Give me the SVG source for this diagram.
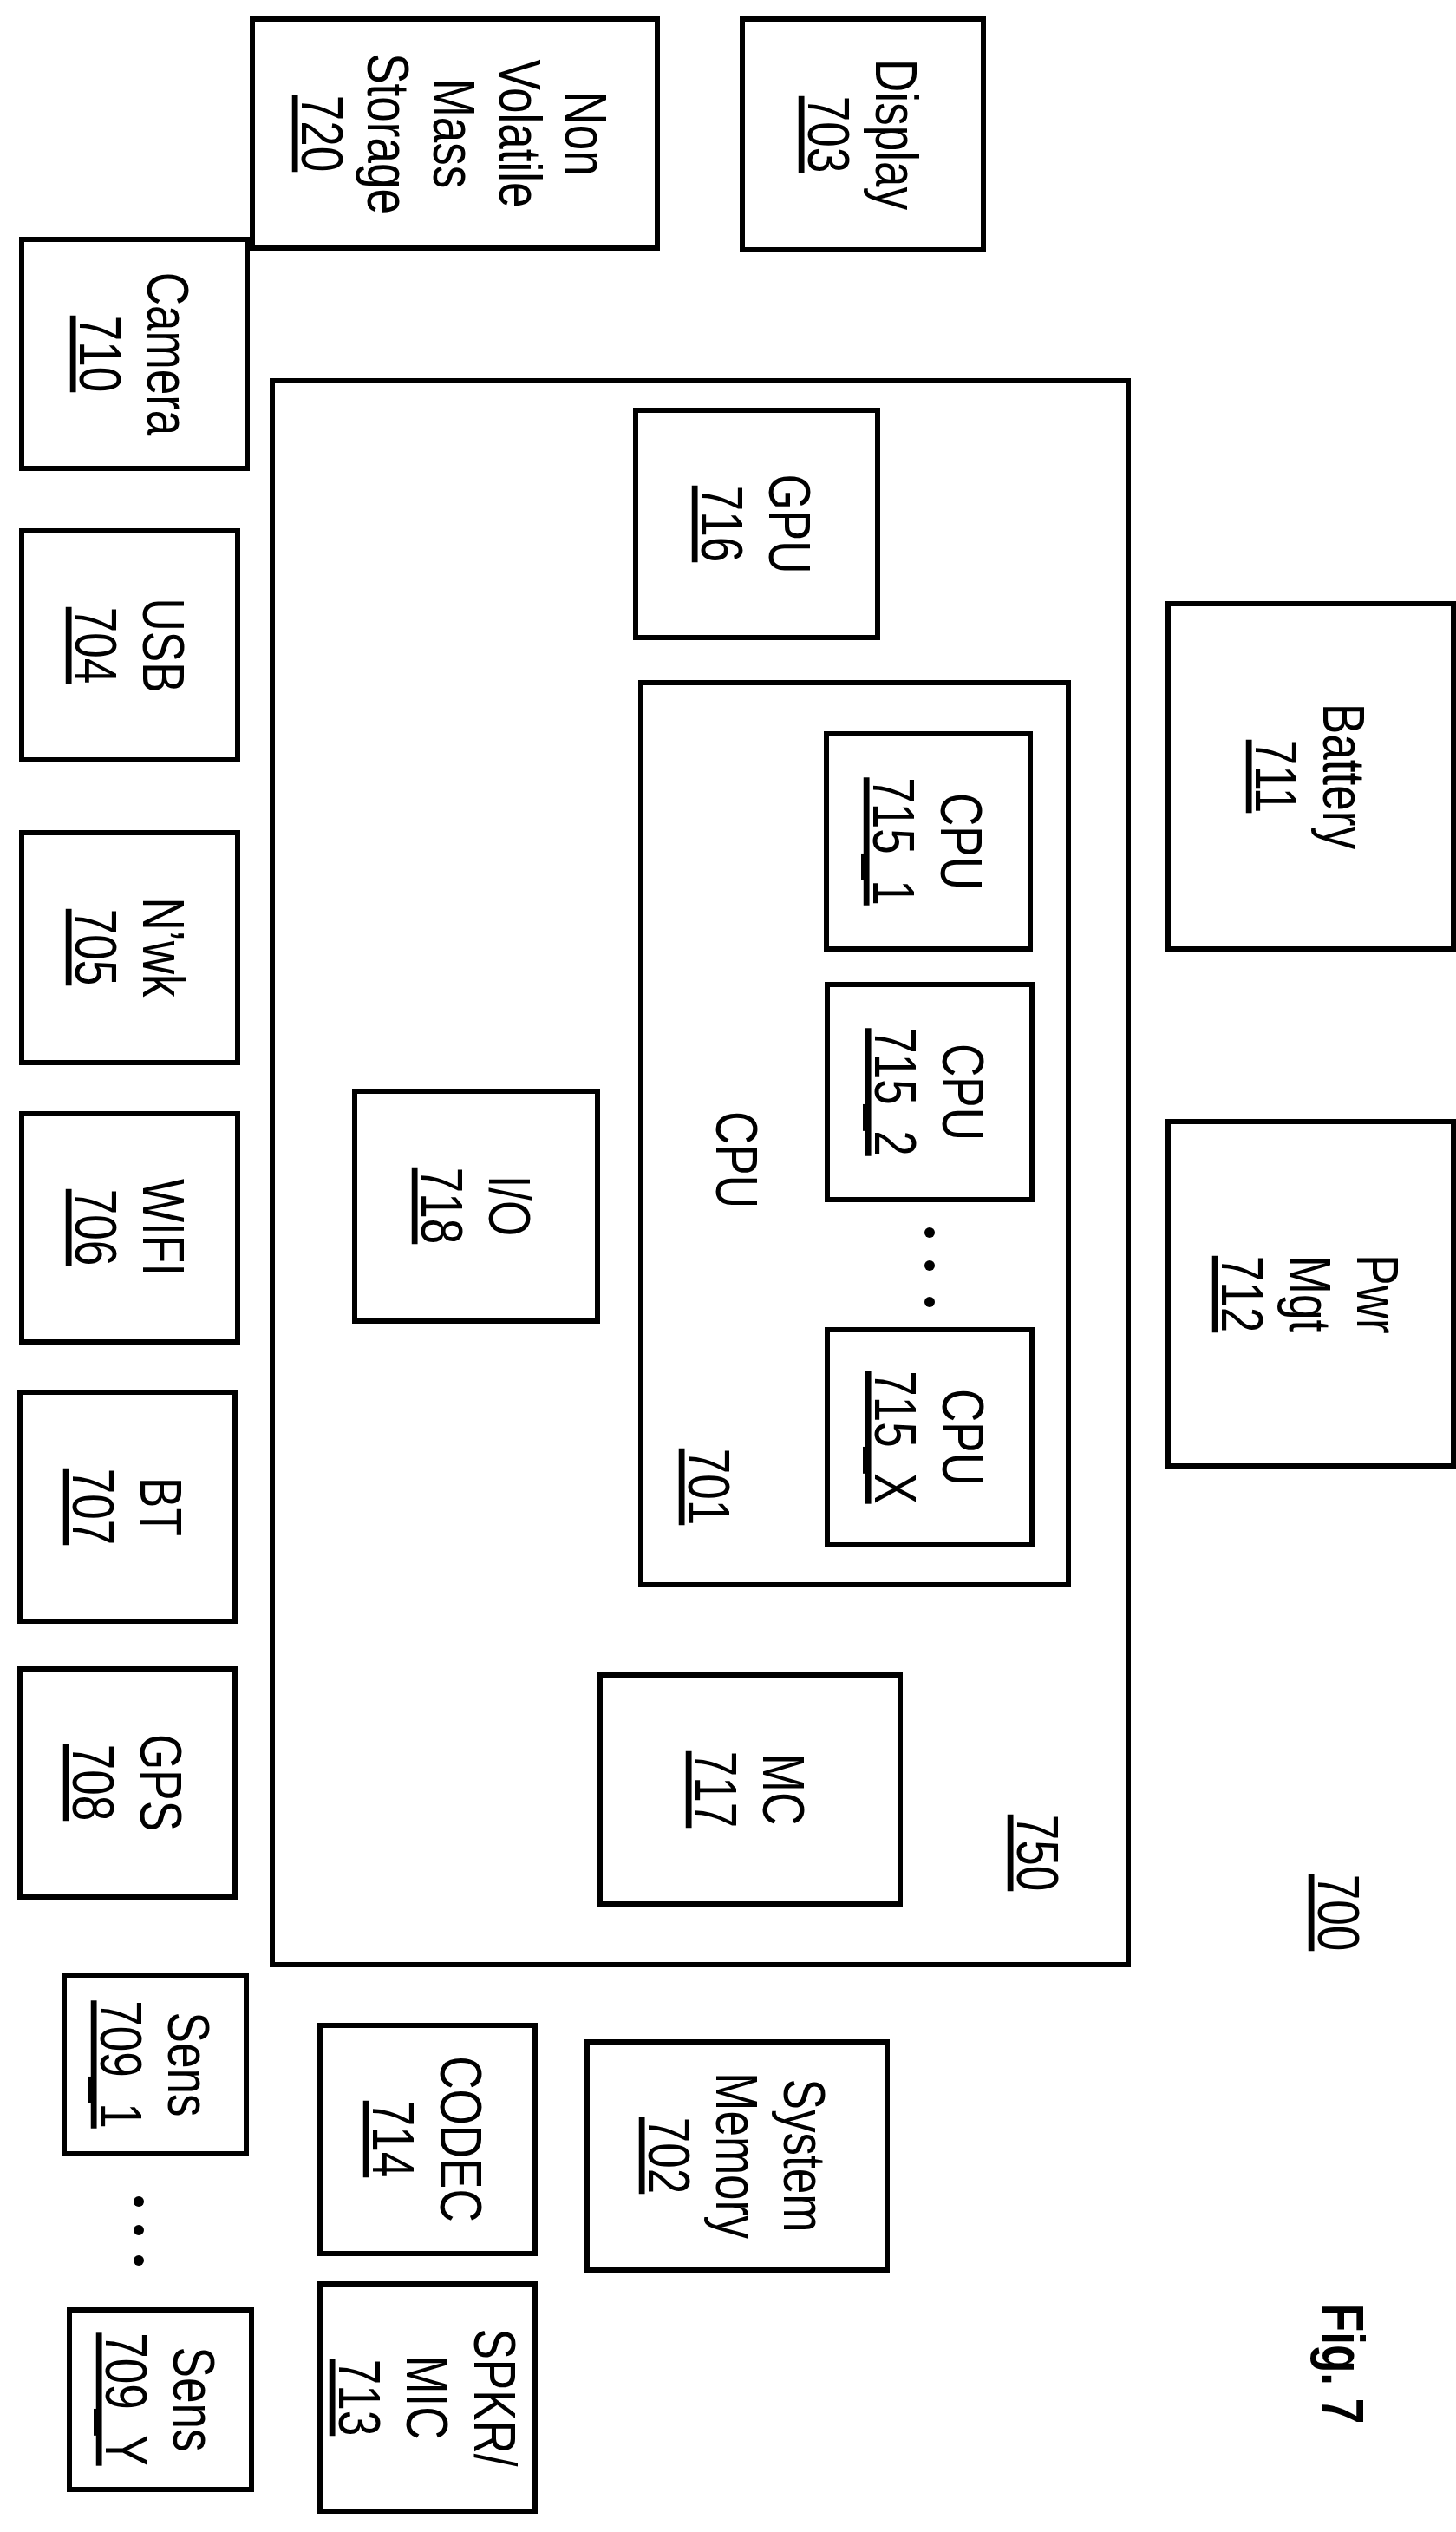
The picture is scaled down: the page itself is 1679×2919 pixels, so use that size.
<svg xmlns="http://www.w3.org/2000/svg" width="1679" height="2919" viewBox="0 0 1679 2919">
<style>
.b{fill:none;stroke:#000;stroke-width:6}
.t{font-family:"Liberation Sans",Arial,sans-serif;font-size:68px;text-anchor:middle;fill:#000}
.u{text-decoration:underline}
.d{fill:#000}
</style>
<rect width="1679" height="2919" fill="#fff"/>
<g id="n750"><rect class="b" x="314" y="439" width="987" height="1826"/>
<text class="t" transform="translate(1197,2136) rotate(90) scale(0.78,1)"><tspan class="u" x="0" y="24">750</tspan></text></g>
<g id="n720"><rect class="b" x="291" y="22" width="467" height="264"/>
<text class="t" transform="translate(524,154) rotate(90) scale(0.78,1)"><tspan x="0" y="-128">Non</tspan><tspan x="0" y="-52">Volatile</tspan><tspan x="0" y="24">Mass</tspan><tspan x="0" y="100">Storage</tspan><tspan class="u" x="0" y="176">720</tspan></text></g>
<g id="n703"><rect class="b" x="856" y="22" width="278" height="266"/>
<text class="t" transform="translate(995,155) rotate(90) scale(0.78,1)"><tspan x="0" y="-15">Display</tspan><tspan class="u" x="0" y="63">703</tspan></text></g>
<g id="n710"><rect class="b" x="25" y="276" width="260" height="264"/>
<text class="t" transform="translate(155,408) rotate(90) scale(0.78,1)"><tspan x="0" y="-15">Camera</tspan><tspan class="u" x="0" y="63">710</tspan></text></g>
<g id="n716"><rect class="b" x="733" y="473" width="279" height="262"/>
<text class="t" transform="translate(872,604) rotate(90) scale(0.78,1)"><tspan x="0" y="-15">GPU</tspan><tspan class="u" x="0" y="63">716</tspan></text></g>
<g id="n704"><rect class="b" x="25" y="612" width="249" height="264"/>
<text class="t" transform="translate(150,744) rotate(90) scale(0.78,1)"><tspan x="0" y="-15">USB</tspan><tspan class="u" x="0" y="63">704</tspan></text></g>
<g id="n711"><rect class="b" x="1347" y="696" width="329" height="398"/>
<text class="t" transform="translate(1511,895) rotate(90) scale(0.78,1)"><tspan x="0" y="-15">Battery</tspan><tspan class="u" x="0" y="63">711</tspan></text></g>
<g id="n701"><rect class="b" x="739" y="787" width="493" height="1040"/>
<text class="t" transform="translate(850,1337) rotate(90) scale(0.78,1)"><tspan x="0" y="24">CPU</tspan></text>
<text class="t" transform="translate(818,1714) rotate(90) scale(0.78,1)"><tspan class="u" x="0" y="24">701</tspan></text></g>
<g id="n715_1"><rect class="b" x="953" y="846" width="235" height="248"/>
<text class="t" transform="translate(1070,970) rotate(90) scale(0.78,1)"><tspan x="0" y="-15">CPU</tspan><tspan class="u" x="0" y="63">715_1</tspan></text></g>
<g id="n715_2"><rect class="b" x="954" y="1135" width="236" height="248"/>
<text class="t" transform="translate(1072,1259) rotate(90) scale(0.78,1)"><tspan x="0" y="-15">CPU</tspan><tspan class="u" x="0" y="63">715_2</tspan></text></g>
<g id="dots1"><circle class="d" cx="1072" cy="1421" r="6"/><circle class="d" cx="1072" cy="1459" r="6"/><circle class="d" cx="1072" cy="1501" r="6"/></g>
<g id="n715_X"><rect class="b" x="954" y="1533" width="236" height="248"/>
<text class="t" transform="translate(1072,1657) rotate(90) scale(0.78,1)"><tspan x="0" y="-15">CPU</tspan><tspan class="u" x="0" y="63">715_X</tspan></text></g>
<g id="n705"><rect class="b" x="25" y="960" width="249" height="265"/>
<text class="t" transform="translate(150,1092) rotate(90) scale(0.78,1)"><tspan x="0" y="-15">N’wk</tspan><tspan class="u" x="0" y="63">705</tspan></text></g>
<g id="n718"><rect class="b" x="409" y="1258" width="280" height="265"/>
<text class="t" transform="translate(549,1390) rotate(90) scale(0.78,1)"><tspan x="0" y="-15">I/O</tspan><tspan class="u" x="0" y="63">718</tspan></text></g>
<g id="n712"><rect class="b" x="1347" y="1293" width="329" height="397"/>
<text class="t" transform="translate(1511,1492) rotate(90) scale(0.78,1)"><tspan x="0" y="-54">Pwr</tspan><tspan x="0" y="24">Mgt</tspan><tspan class="u" x="0" y="102">712</tspan></text></g>
<g id="n706"><rect class="b" x="25" y="1284" width="249" height="263"/>
<text class="t" transform="translate(150,1415) rotate(90) scale(0.78,1)"><tspan x="0" y="-15">WIFI</tspan><tspan class="u" x="0" y="63">706</tspan></text></g>
<g id="n707"><rect class="b" x="23" y="1605" width="248" height="264"/>
<text class="t" transform="translate(147,1737) rotate(90) scale(0.78,1)"><tspan x="0" y="-15">BT</tspan><tspan class="u" x="0" y="63">707</tspan></text></g>
<g id="n708"><rect class="b" x="23" y="1924" width="248" height="263"/>
<text class="t" transform="translate(147,2055) rotate(90) scale(0.78,1)"><tspan x="0" y="-15">GPS</tspan><tspan class="u" x="0" y="63">708</tspan></text></g>
<g id="n717"><rect class="b" x="692" y="1931" width="346" height="264"/>
<text class="t" transform="translate(865,2063) rotate(90) scale(0.78,1)"><tspan x="0" y="-15">MC</tspan><tspan class="u" x="0" y="63">717</tspan></text></g>
<g id="n700"><text class="t" transform="translate(1544,2205) rotate(90) scale(0.78,1)"><tspan class="u" x="0" y="24">700</tspan></text></g>
<g id="n709_1"><rect class="b" x="74" y="2277" width="210" height="206"/>
<text class="t" transform="translate(179,2380) rotate(90) scale(0.78,1)"><tspan x="0" y="-15">Sens</tspan><tspan class="u" x="0" y="63">709_1</tspan></text></g>
<g id="dots2"><circle class="d" cx="160" cy="2538" r="6"/><circle class="d" cx="160" cy="2571" r="6"/><circle class="d" cx="160" cy="2606" r="6"/></g>
<g id="n709_Y"><rect class="b" x="80" y="2663" width="210" height="207"/>
<text class="t" transform="translate(185,2766) rotate(90) scale(0.78,1)"><tspan x="0" y="-15">Sens</tspan><tspan class="u" x="0" y="63">709_Y</tspan></text></g>
<g id="n714"><rect class="b" x="369" y="2335" width="248" height="263"/>
<text class="t" transform="translate(493,2466) rotate(90) scale(0.78,1)"><tspan x="0" y="-15">CODEC</tspan><tspan class="u" x="0" y="63">714</tspan></text></g>
<g id="n713"><rect class="b" x="369" y="2633" width="248" height="262"/>
<text class="t" transform="translate(493,2764) rotate(90) scale(0.78,1)"><tspan x="0" y="-54">SPKR/</tspan><tspan x="0" y="24">MIC</tspan><tspan class="u" x="0" y="102">713</tspan></text></g>
<g id="n702"><rect class="b" x="677" y="2354" width="346" height="263"/>
<text class="t" transform="translate(850,2485) rotate(90) scale(0.78,1)"><tspan x="0" y="-54">System</tspan><tspan x="0" y="24">Memory</tspan><tspan class="u" x="0" y="102">702</tspan></text></g>
<g id="fig"><text class="t" font-weight="bold" transform="translate(1549,2725) rotate(90) scale(0.78,1)"><tspan x="0" y="24">Fig. 7</tspan></text></g>
<g id="connectors"></g>
</svg>
